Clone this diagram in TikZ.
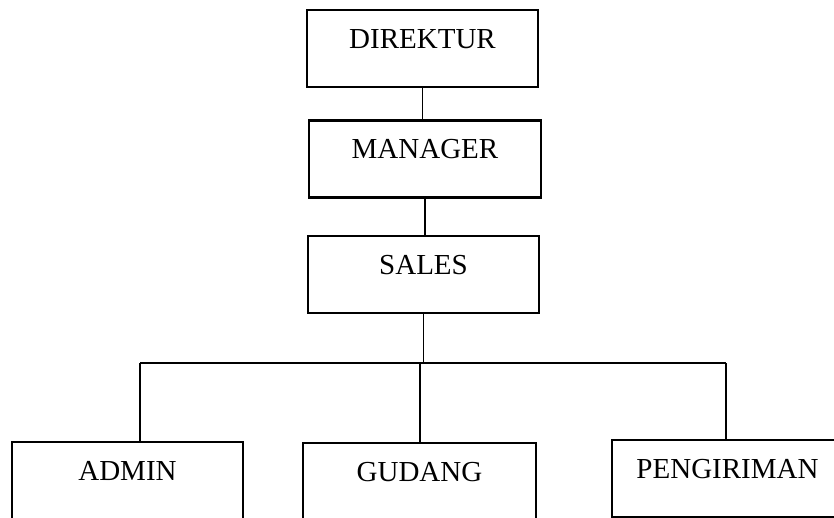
\documentclass[tikz,border=0pt]{standalone}
\usepackage{fontspec}
\setmainfont{Liberation Serif}
\usepackage{tikz}
\usetikzlibrary{calc}
\tikzset{
  jabatan/.style={draw, line width=1.2pt, inner sep=0pt,
    minimum width=115.5pt, text height=19.25pt, text depth=19.25pt,
    font=\fontsize{14.5}{17}\selectfont},
  garis/.style={line width=0.6pt}
}

\begin{document}
\begin{tikzpicture}[x=0.5pt,y=-0.5pt]
      \useasboundingbox (0,0) rectangle (834,518);
      \clip (0,0) rectangle (834,518);
      \node[jabatan] (direktur) at (422.5,48.5) {DIREKTUR};
      \node[jabatan, minimum width=116pt] (manager) at (425,159) {MANAGER};
      \node[jabatan] (sales) at (423.5,274.5) {SALES};
      \node[jabatan] (admin) at (127.5,480.5) {ADMIN};
      \node[jabatan, minimum width=116.5pt] (gudang) at (419.5,481.5) {GUDANG};
      \node[jabatan] (pengiriman) at (727.5,478.5) {PENGIRIMAN};
      \coordinate (bus) at (420,363);
      \coordinate (busl) at (140,363);
      \coordinate (busr) at (726,363);
      \draw[garis] (direktur.south) -- (direktur.south |- manager.north);
      \draw[garis] (manager.south) -- (manager.south |- sales.north);
      \draw[garis] (sales.south) -- (sales.south |- bus);
      \draw[garis] (busl) -- (busr);
      \draw[garis] (busl) -- (busl |- admin.north);
      \draw[garis] (bus) -- (bus |- gudang.north);
      \draw[garis] (busr) -- (busr |- pengiriman.north);
    \end{tikzpicture}
\end{document}
